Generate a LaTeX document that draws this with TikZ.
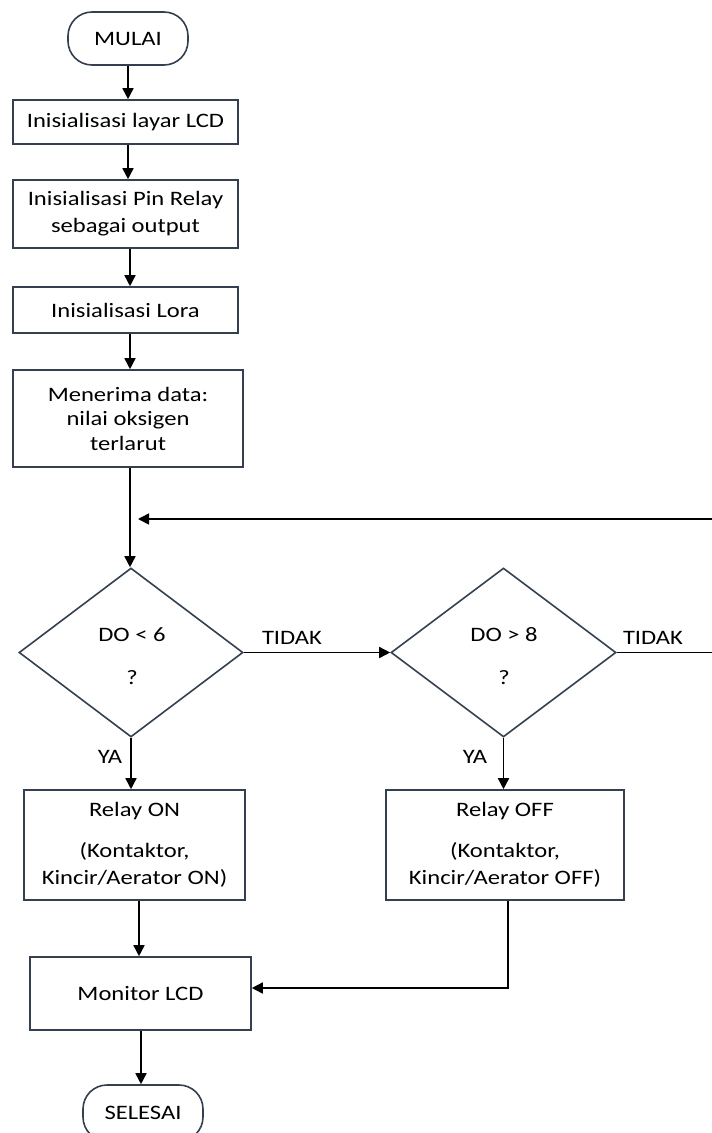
\documentclass[tikz,border=0pt]{standalone}
\usepackage{fontspec}
\setmainfont[FakeStretch=1.2]{Carlito}
\usetikzlibrary{shapes.geometric,arrows.meta}
\definecolor{edge}{HTML}{34404F}
\tikzset{
  box/.style={draw=edge,line width=1.6pt,rectangle,inner sep=0pt,align=center,font=\fontsize{20.5}{27}\selectfont},
  term/.style={draw=edge,line width=1.6pt,rectangle,rounded corners=24pt,inner sep=0pt,font=\fontsize{20.5}{27}\selectfont},
  dec/.style={draw=edge,line width=1.6pt,diamond,inner sep=0pt},
  txt/.style={inner sep=0pt,font=\fontsize{20.5}{27}\selectfont},
  arr/.style={line width=1.6pt,-{Triangle[length=11pt,width=11pt]}},
  ln/.style={line width=1.6pt}
}
\begin{document}
\begin{tikzpicture}[x=1pt,y=-1pt]
\useasboundingbox (0,0) rectangle (712,1133);
\node[term,minimum width=120pt,minimum height=53pt] (start) at (128,38.5) {MULAI};
\node[box,minimum width=225pt,minimum height=44pt] (b1) at (125.5,122) {Inisialisasi layar LCD};
\node[box,minimum width=225pt,minimum height=68pt] (b2) at (125.5,214) {Inisialisasi Pin Relay\\sebagai output};
\node[box,minimum width=225pt,minimum height=46pt] (b3) at (125.5,310) {Inisialisasi Lora};
\node[box,minimum width=230pt,minimum height=97pt,font=\fontsize{20.5}{24.5}\selectfont] (b4) at (128,418.5) {Menerima data:\\nilai oksigen\\terlarut};
\node[dec,minimum width=224pt,minimum height=169pt] (d1) at (131,652.5) {};
\node[txt] (d1a) at (132,635) {DO < 6};
\node[txt] (d1b) at (132,678) {?};
\node[dec,minimum width=225pt,minimum height=169pt] (d2) at (503.5,652.5) {};
\node[txt] (d2a) at (504,635) {DO > 8};
\node[txt] (d2b) at (504,678) {?};
\node[box,minimum width=221pt,minimum height=110pt] (on) at (134.5,845) {Relay ON\\[14pt](Kontaktor,\\Kincir/Aerator ON)};
\node[box,minimum width=238pt,minimum height=110pt] (off) at (505,845) {Relay OFF\\[14pt](Kontaktor,\\Kincir/Aerator OFF)};
\node[box,minimum width=221pt,minimum height=73pt] (mon) at (140.5,993.5) {Monitor LCD};
\node[term,minimum width=120pt,minimum height=56pt] (end) at (143,1113) {SELESAI};
\node[txt] (t1) at (292,638) {TIDAK};
\node[txt] (t2) at (653,638) {TIDAK};
\node[txt] (y1) at (110,757) {YA};
\node[txt] (y2) at (475,757) {YA};
\coordinate (fbL) at (138,519);
\coordinate (fbA) at (716,652.5);
\coordinate (fbB) at (716,519);
\coordinate (offd) at (508,988);
\draw[arr] (start.south -| 128,0) -- (b1.north -| 128,0);
\draw[arr] (b1.south -| 128,0) -- (b2.north -| 128,0);
\draw[arr] (b2.south -| 130,0) -- (b3.north -| 130,0);
\draw[arr] (b3.south -| 130,0) -- (b4.north -| 130,0);
\draw[arr] (b4.south -| 130,0) -- (d1.north -| 130,0);
\draw[arr] (d2.east) -- (fbA) -- (fbB) -- (fbL);
\draw[arr] (d1.east) -- (d2.west);
\draw[arr] (d1.south) -- (on.north -| d1.south);
\draw[arr] (d2.south) -- (off.north -| d2.south);
\draw[arr] (on.south -| 139,0) -- (mon.north -| 139,0);
\draw[arr] (off.south -| offd) -- (offd) -- (mon.east |- offd);
\draw[arr] (mon.south -| 141,0) -- (end.north -| 141,0);
\end{tikzpicture}
\end{document}
